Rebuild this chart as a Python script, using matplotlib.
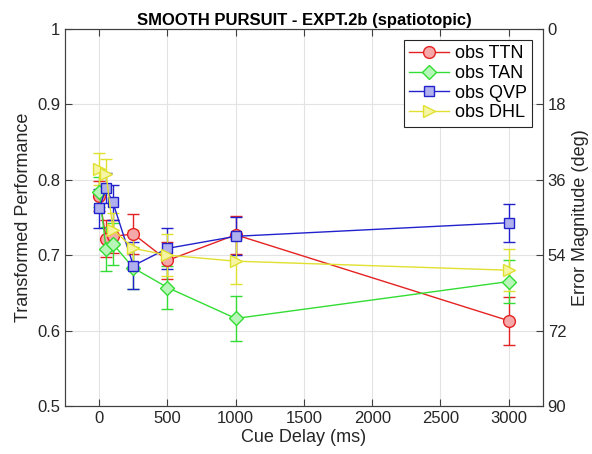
import matplotlib
matplotlib.use("Agg")
import matplotlib.pyplot as plt
from matplotlib.lines import Line2D

plt.rcParams['font.family'] = ['Liberation Sans', 'DejaVu Sans']

delays = [0, 50, 100, 250, 500, 1000, 3000]

ttn = [0.778, 0.722, 0.725, 0.728, 0.693, 0.727, 0.613]
ttn_err = [0.020, 0.025, 0.022, 0.027, 0.025, 0.025, 0.032]

tan = [0.784, 0.708, 0.715, 0.683, 0.657, 0.616, 0.665]
tan_err = [0.020, 0.029, 0.028, 0.028, 0.028, 0.030, 0.029]

qvp = [0.762, 0.789, 0.770, 0.686, 0.709, 0.725, 0.743]
qvp_err = [0.026, 0.020, 0.023, 0.031, 0.027, 0.025, 0.025]

dhl = [0.814, 0.808, 0.734, 0.709, 0.700, 0.692, 0.680]
dhl_err = [0.021, 0.020, 0.022, 0.025, 0.028, 0.030, 0.028]

labels = ['obs TTN', 'obs TAN', 'obs QVP', 'obs DHL']
line_colors = ['#E52222', '#33DD33', '#2222CC', '#E0E030']
face_colors = ['#F5A8A8', '#B8F5B8', '#B0B0EE', '#F5F5A5']
markers = ['o', 'D', 's', '>']
msizes = [8.5, 7, 7, 9]

xticks = [0, 500, 1000, 1500, 2000, 2500, 3000]
yticks = [0.5, 0.6, 0.7, 0.8, 0.9, 1.0]
ytick_labels = ['0.5', '0.6', '0.7', '0.8', '0.9', '1']
rticks = [0, 18, 36, 54, 72, 90]

fig = plt.figure(figsize=(5.92, 4.54), dpi=100)
ax = fig.add_axes([0.110, 0.106, 0.807, 0.830])

series = [(ttn, ttn_err), (tan, tan_err), (qvp, qvp_err), (dhl, dhl_err)]
handles = []
for (vals, errs), lab, lc, fc, mk, ms in zip(series, labels, line_colors, face_colors, markers, msizes):
    ax.errorbar(delays, vals, yerr=errs, color=lc, marker=mk, markersize=ms,
                markerfacecolor=fc, markeredgecolor=lc, linewidth=1.0,
                elinewidth=1.0, capsize=4, capthick=1.0, zorder=3)
    handles.append(Line2D([], [], color=lc, marker=mk, markersize=ms,
                          markerfacecolor=fc, markeredgecolor=lc, linewidth=1.0,
                          label=lab))

ax.set_xlim(-250, 3250)
ax.set_ylim(0.5, 1.0)
ax.set_xticks(xticks)
ax.set_xticklabels([str(t) for t in xticks])
ax.set_yticks(yticks)
ax.set_yticklabels(ytick_labels)
ax.grid(True, color='#E3E3E3', linewidth=0.8, zorder=0)
ax.set_axisbelow(True)
ax.tick_params(direction='in', length=5, width=0.8, colors='#404040',
               labelsize=12, labelcolor='#262626', top=True, right=False)
for s in ax.spines.values():
    s.set_color('#404040')
    s.set_linewidth(0.8)

ax.set_xlabel('Cue Delay (ms)', fontsize=13, color='#262626', labelpad=2)
ax.set_ylabel('Transformed Performance', fontsize=13, color='#262626', labelpad=4)
ax.set_title('SMOOTH PURSUIT - EXPT.2b (spatiotopic)', fontsize=12,
             fontweight='bold', pad=3)

ax2 = ax.twinx()
ax2.set_ylim(90, 0)
ax2.set_yticks(rticks)
ax2.set_yticklabels([str(t) for t in rticks])
ax2.tick_params(direction='in', length=5, width=0.8, colors='#404040',
                labelsize=12, labelcolor='#262626')
for s in ax2.spines.values():
    s.set_color('#404040')
    s.set_linewidth(0.8)
ax2.set_ylabel('Error Magnitude (deg)', fontsize=13, color='#262626', labelpad=4)

leg = ax2.legend(handles=handles, loc='upper right', fontsize=13, frameon=True,
                 fancybox=False, borderpad=0.3, labelspacing=0.15,
                 handlelength=2.2, handletextpad=0.3, borderaxespad=0.6)
leg.get_frame().set_edgecolor('#262626')
leg.get_frame().set_linewidth(0.8)
leg.get_frame().set_alpha(1)

fig.savefig('out.png', dpi=100)
